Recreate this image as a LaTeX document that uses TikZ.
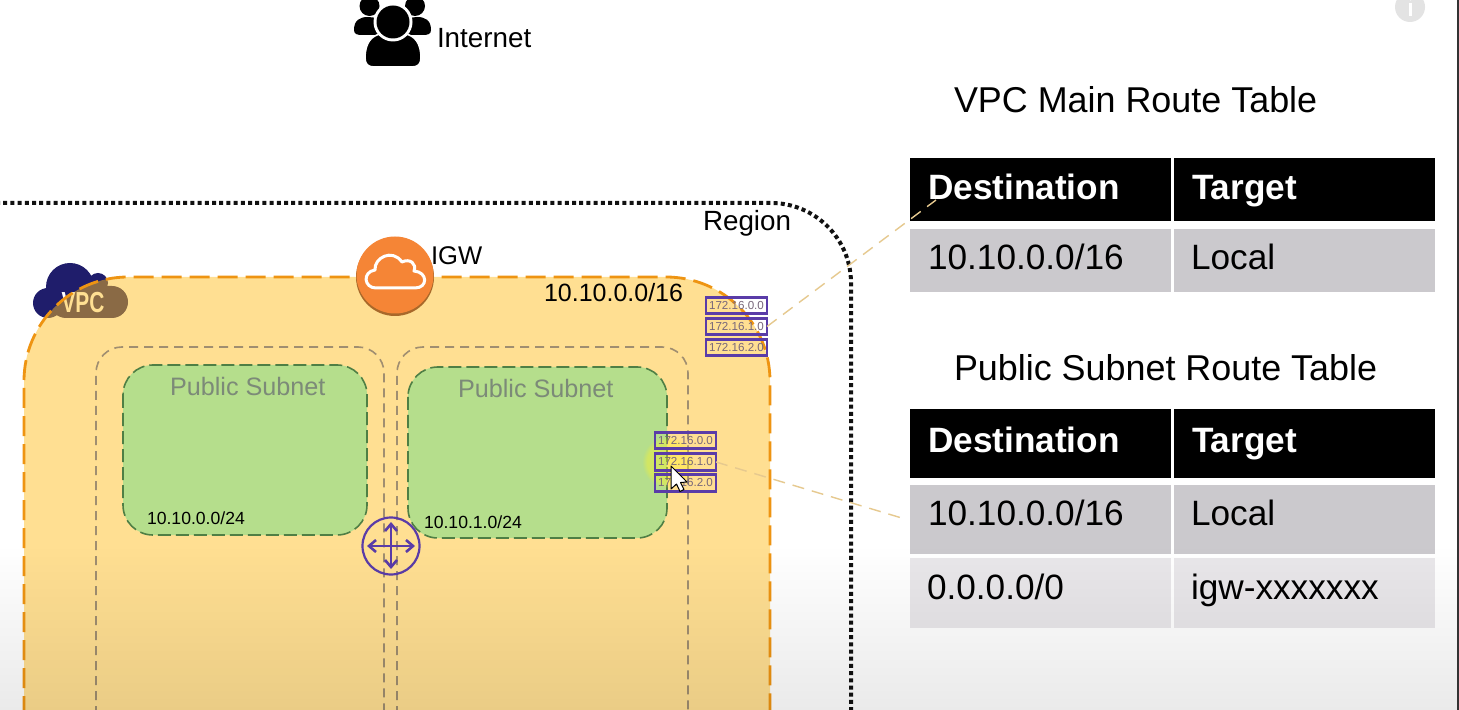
\documentclass[tikz,border=0pt]{standalone}
\usepackage{fontspec}
\setmainfont{Liberation Sans}
\usetikzlibrary{fadings,arrows.meta}
\definecolor{regionink}{HTML}{111111}
\definecolor{vpcfill}{HTML}{FFBE1C}
\definecolor{vpcdash}{HTML}{EE9412}
\definecolor{navy}{HTML}{1F1D6B}
\definecolor{subdash}{HTML}{A08E70}
\definecolor{greenfill}{HTML}{B5DE8C}
\definecolor{greendash}{HTML}{4F7F45}
\definecolor{subtext}{HTML}{7C8A78}
\definecolor{purp}{HTML}{5A3CA8}
\definecolor{igworange}{HTML}{F58536}
\definecolor{igwdark}{HTML}{A8682A}
\definecolor{cellA}{HTML}{CBC9CD}
\definecolor{cellB}{HTML}{E9E7EA}
\definecolor{tan}{HTML}{E6C98F}
\definecolor{rttext}{HTML}{77667A}
\newcommand{\pxfont}[1]{\fontsize{#1}{#1}\selectfont}
\tikzset{
  x=0.5pt,y=-0.5pt,
  lab/.style={inner sep=0pt,outer sep=0pt,anchor=base west,text=black},
  big/.style={lab,font=\pxfont{17.6}},
  tabtitle/.style={lab,font=\pxfont{17.95}},
  tabhead/.style={lab,text=white,font=\pxfont{17.6}\bfseries},
  subnetlabel/.style={lab,text=subtext,font=\pxfont{12.6}},
  cidr/.style={lab,font=\pxfont{8.8}},
  headcell/.style={fill=black,inner sep=0pt,outer sep=0pt,minimum width=130.5pt},
  cell/.style={inner sep=0pt,outer sep=0pt,minimum width=130.5pt},
  rtbox/.style={draw=purp,line width=1.4pt,inner sep=0pt,outer sep=0pt,minimum width=30.5pt,minimum height=8.2pt,text=rttext,font=\pxfont{5.8}},
  leader/.style={draw=tan,line width=0.7pt,dash pattern=on 6pt off 4pt},
}
\begin{document}
\begin{tikzpicture}
\clip (0,0) rectangle (1459,710);
\fill[white] (0,0) rectangle (1459,710);
% Internet icon
\fill[black] (369.5,6) circle (10);
\fill[black] (415,6) circle (10);
\fill[black] (354,30) .. controls (354,20) and (360,17) .. (368,17) -- (378,18) -- (378,35) -- (362,35) .. controls (357,35) and (354,34) .. (354,30) -- cycle;
\fill[black] (431,30) .. controls (431,20) and (425,17) .. (417,17) -- (408,18) -- (408,35) -- (423,35) .. controls (428,35) and (431,34) .. (431,30) -- cycle;
\fill[black,draw=white,line width=0.8pt] (365,58) .. controls (365,42) and (372,36) .. (380,34) -- (406,34) .. controls (414,36) and (421,42) .. (421,58) .. controls (421,64) and (418,67) .. (412,67) -- (374,67) .. controls (368,67) and (365,64) .. (365,58) -- cycle;
\fill[white] (393,22) circle (19.5);
\fill[black] (393,22) circle (16.5);
\node[big,font=\pxfont{13.9}] (internet) at (437,48) {Internet};
% info icon
\node[circle,fill=black!11,minimum size=15pt,inner sep=0pt] (info) at (1410,7) {};
\fill[white] (1409,3) rectangle (1412,16);
\fill[white] (1410.5,-1) circle (1.6);
% Region
\draw[regionink,line width=2pt,dash pattern=on 2pt off 1.6pt,rounded corners=40pt] (-4,203) -- (851,203) -- (851,730);
\node[big,font=\pxfont{13.9}] (region) at (703,231) {Region};
% VPC icon
\fill[navy] (70,287) circle (24);
\fill[navy] (48,303) circle (15);
\fill[navy] (98,283) circle (10);
\fill[navy,rounded corners=8pt] (50,286) rectangle (128,318);
\node[inner sep=0pt,anchor=base,text=white,xscale=.72,font=\pxfont{14.5}\bfseries] (vpclabel) at (83,313) {VPC};
% VPC area
\draw[fill=vpcfill,fill opacity=.48,draw=vpcdash,line width=1.4pt,dash pattern=on 10pt off 4pt,rounded corners=52pt] (24,800) -- (24,277) -- (770,277) -- (770,800);
% inner dashed zones
\draw[subdash,line width=.8pt,dash pattern=on 4.5pt off 3pt,rounded corners=13pt] (96,760) -- (96,347) -- (384,347) -- (384,760);
\draw[subdash,line width=.8pt,dash pattern=on 4.5pt off 3pt,rounded corners=13pt] (397,760) -- (397,347) -- (688,347) -- (688,760);
% green subnets
\draw[fill=greenfill,draw=greendash,line width=.8pt,dash pattern=on 6.5pt off 2.5pt,rounded corners=15pt] (123,365) rectangle (367,535);
\draw[fill=greenfill,draw=greendash,line width=.8pt,dash pattern=on 6.5pt off 2.5pt,rounded corners=15pt] (408,367) rectangle (667,538);
\node[subnetlabel] (pub1) at (170,395) {Public Subnet};
\node[subnetlabel] (pub2) at (458,398) {Public Subnet};
\node[cidr] (cidr1) at (147,524) {10.10.0.0/24};
\node[cidr] (cidr2) at (424,528) {10.10.1.0/24};
\node[lab,font=\pxfont{12.5}] (vpccidr) at (544,302) {10.10.0.0/16};
% IGW
\fill[igwdark] (395,277) circle (39);
\fill[igworange] (395,275) circle (38.5);
\draw[white,line width=1.5pt,line join=round] (376,288) .. controls (364,288) and (362,272) .. (375,270) .. controls (374,258) and (392,248) .. (402,262) .. controls (410,258) and (417,264) .. (414,271) .. controls (428,272) and (428,288) .. (415,288) -- cycle;
\node[big,font=\pxfont{12.8}] (igw) at (431,265) {IGW};
% router
\node[circle,draw=purp,line width=1.1pt,minimum size=28.5pt,inner sep=0pt] (router) at (391,546) {};
\draw[purp,line width=1.3pt,{Straight Barb[length=3.5pt,width=6pt]}-{Straight Barb[length=3.5pt,width=6pt]}] (367,546) -- (415,546);
\draw[purp,line width=1.3pt,{Straight Barb[length=3.5pt,width=6pt]}-{Straight Barb[length=3.5pt,width=6pt]}] (391,522) -- (391,569);
% glow
\fill[yellow!85!white,opacity=.4,path fading=circle with fuzzy edge 20 percent] (668,462) circle (26);
% route stacks
\node[rtbox] (rta) at (736.5,305.5) {172.16.0.0};
\node[rtbox] (rtb) at (736.5,326.5) {172.16.1.0};
\node[rtbox] (rtc) at (736.5,347.5) {172.16.2.0};
\node[rtbox] (rtd) at (685.5,440.5) {172.16.0.0};
\node[rtbox] (rte) at (685.5,462) {172.16.1.0};
\node[rtbox] (rtf) at (685.5,483) {172.16.2.0};
% cursor
\draw[fill=white,draw=black,line width=.5pt,line join=round] (671,466) -- (671,489) -- (676.5,484) -- (680,491.5) -- (684,489.5) -- (680.5,482.5) -- (687,482) -- cycle;
% tables
\node[tabtitle] (title1) at (954,113) {VPC Main Route Table};
\node[tabtitle] (title2) at (954,381) {Public Subnet Route Table};
\node[headcell,minimum height=31.5pt] (h1a) at (1040.5,189.5) {};
\node[headcell,minimum height=31.5pt] (h1b) at (1304.5,189.5) {};
\node[cell,fill=cellA,minimum height=31.5pt] (c1a) at (1040.5,260.5) {};
\node[cell,fill=cellA,minimum height=31.5pt] (c1b) at (1304.5,260.5) {};
\node[headcell,minimum height=34.5pt] (h2a) at (1040.5,443.5) {};
\node[headcell,minimum height=34.5pt] (h2b) at (1304.5,443.5) {};
\node[cell,fill=cellA,minimum height=34.5pt] (c2a) at (1040.5,519.5) {};
\node[cell,fill=cellA,minimum height=34.5pt] (c2b) at (1304.5,519.5) {};
\node[cell,fill=cellB,minimum height=35pt] (c3a) at (1040.5,593) {};
\node[cell,fill=cellB,minimum height=35pt] (c3b) at (1304.5,593) {};
\node[tabhead] (t1) at (928,200) {Destination};
\node[tabhead] (t2) at (1192,200) {Target};
\node[big] (t3) at (928,270) {10.10.0.0/16};
\node[big] (t4) at (1191,270) {Local};
\node[tabhead] (t5) at (928,452) {Destination};
\node[tabhead] (t6) at (1192,452) {Target};
\node[big] (t7) at (928,525) {10.10.0.0/16};
\node[big] (t8) at (1191,525) {Local};
\node[big] (t9) at (927,599) {0.0.0.0/0};
\node[big] (t10) at (1191,599) {igw-xxxxxxx};
% leaders
\coordinate (endA) at (936,200);
\coordinate (endB) at (905,519);
\draw[leader] (rtb.east) -- (endA);
\draw[leader] (rte.east) -- (endB);
% bottom fade and edge
\fill[black,opacity=.11,path fading=north] (0,545) rectangle (1459,765);
\fill[black!80] (1457,0) rectangle (1459,710);
\end{tikzpicture}
\end{document}
